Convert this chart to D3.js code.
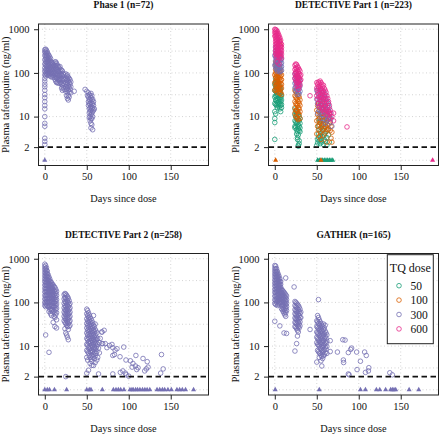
<!DOCTYPE html>
<html><head><meta charset="utf-8">
<script src="https://cdn.jsdelivr.net/npm/d3@7"></script>
<style>body{margin:0;background:#fff}svg{display:block}svg text{font-family:"Liberation Serif","Times New Roman",Times,serif !important}</style>
</head><body><svg id="c" width="440" height="435"></svg>
<script>
const doses = ["50", "100", "300", "600"];
const doseColors = ["#1B9E77", "#D95F02", "#7570B3", "#E7298A"];
const panelTitles = ["Phase 1 (n=72)", "DETECTIVE Part 1 (n=223)", "DETECTIVE Part 2 (n=258)", "GATHER (n=165)"];
const xTicks = [0, 50, 100, 150];
const yTicks = [1000, 100, 10, 2];
const yTickLabels = ["1000", "100", "10", "2"];
const gridX = [0, 50, 100, 150];
const gridY = [1, 3.162, 10, 31.62, 100, 316.2, 1000];
const lloq = 2;
const blqValue = 1;
const xLabel = "Days since dose";
const yLabel = "Plasma tafenoquine (ng/ml)";
const legendTitle = "TQ dose";

// rows: [day, conc, conc, ...]
const p1_300 = [
[0,2.3,2.7,3.2,6,7,10,15,18,22,27,32,40,48,55,65,75,90,110,130,160,200,250,300,340],
[1,350,300,260,220,180,150,120,100,85],[2,330,280,240,200,170,140,115,95],
[3,300,250,210,180,150,125,105,90],[4,270,230,195,165,140,115,95],
[5,250,210,180,150,125,105,88],[6,230,190,160,135,115,95],[7,210,170,140,120,100,82],
[8,180,150,125,105,90],[9,170,140,115,95,80],[10,160,130,105,88],[11,150,120,100,80],
[12,175,140,110,90,72],[13,180,150,125,100,80,65],[14,165,135,110,90,75,60],
[15,150,120,95,78,62],[16,140,110,88,70,58],[17,130,105,85,68],[18,140,110,90,72,58],
[19,120,95,76,60],[20,115,90,72,55,45],[21,110,85,68,52,40],[22,95,75,58,46],[23,90,70,55,42],
[25,95,75,60,48,38],[26,85,68,54,42,30],[27,90,72,58,45,35,26],[28,80,65,50,40,30,24],
[29,75,60,47,36,28],[30,70,55,42],[31,62,48,35],[35,38],
[48,42],[50,38],[51,30],[52,35,28,22,18],[53,32,25,20,15,12,9.5],[54,30,24,19,16,13,10,8],
[55,34,27,21,17,14,11,9,7,5.5],[56,30,24,19,15,12,9,6.5],[57,25,20,16,13,10,5],[58,22,18,14],[59,15]
];
const p1_blq_300 = [0];

const p2_50 = [
[0,3,7.3,9,13,20,28,40,55],[1,11.5,75,60,48,38,30,24,19],[2,70,55,45,36,29,23,18],
[3,65,50,40,32,26,21,16],[4,58,46,37,30,24,19],[5,52,42,34,27,22,17],[6,48,38,30,25,20,15],
[7,42,34,27,22,18,13],[8,30,24,19,16],
[24,15,11,8,6,5.5],[25,13,10,7.5,5.8],[26,14,11,9,7,5,4],[27,12,9.5,7.5,6,4.5,3.3,3],
[28,11,8.5,6.5,5.2,3.8,2.2,2.1],[29,10,8,6,4.8,2.8,2.4],[30,9,7,5.5,4.5],
[50,2.2],[51,3,2.5],[52,4,3.3,6],[53,5,2.8,7.5,9],[54,3.6,2.4],[55,5.5,4.2,3.1,8],[56,6.5,2.6],
[57,4.8,3.5],[58,8,5.5,2.3],[59,4,3],[60,6,2.7],[61,4.5],[62,3.3,2.2],[63,5],[64,3.8],[65,2.6]
];
const p2_100 = [
[0,40,60,90],[1,180,150,120,100,80,65,52,42],[2,170,140,115,95,78,62,50,40],
[3,160,130,105,85,70,56,45,36],[4,150,120,98,80,64,52,42],[5,140,110,90,72,58,47,38],
[6,520,125,100,80,65,52,42,34],[7,420,110,88,70,56,45,36],[8,90,70,55,45,32],
[24,40,30,22,16,12],[25,38,28,20,14,10],[26,35,26,19,14,9.5],[27,32,24,18,13,9],
[28,30,22,16,12,8.5],[29,28,20,15,11],[30,24,18,13,9],
[50,14,8,4],[51,18,11,6],[52,20,13,8.5,5],[53,16,10,6.5,3.5],[54,22,12,7.5,4.5],
[55,18,11,7,3],[56,15,9.5,6],[57,20,12,8,5],[58,16,10,6.5,3.8],[59,13,8.5,5.5],
[60,18,11,7,4.2],[61,14,9,5.8],[62,12,8,5,2.6],[63,10,6.5],[64,13,8.8,5.2],[65,9.5,6.8],
[66,7.5,4.8],[67,6,3.2],[68,4.4,2.6]
];
const p2_300 = [
[0,250,150],[1,400,330,280,230,190,160,130],[2,380,320,260,215,180,150,120],
[3,350,290,240,200,165,135,110],[4,330,270,225,185,150,125],[5,300,250,205,170,140,115],
[6,280,230,190,155,130,105],[7,250,200,165,135,110],[8,210,170,140,115],
[24,95,75,58,45],[25,100,80,62,48,38],[26,90,70,55,42],[27,85,66,52,40,32],
[28,78,60,47,36],[29,72,55,43,33],[30,65,50,38],
[50,40,25],[51,35,20,12],[52,45,28,17],[53,38,24,14],[54,32,20,12],[55,42,27,16,9],
[56,35,22,13],[57,30,18,11],[58,38,25,15,9],[59,28,17],[60,33,21,12,7],[61,26,15],
[62,22,13,8],[63,18,11],[64,20,14,9],[65,16,10],[66,12,7.5],[67,9],[68,6]
];
const p2_600 = [
[0,1000,850,700],[1,980,900,800,700,600,520,450,380,320,270],
[2,950,820,720,620,540,460,390,330,280,230],[3,880,760,650,560,480,410,350,300,250,180],
[4,800,690,590,500,430,370,310,260],[5,720,620,530,450,380,320,270,220,160],
[6,640,540,460,390,330,280,230],[7,560,470,400,340,290,240],[8,450,380,320,270,220],
[24,150,120,95,75],[25,160,130,105,85,68],[26,155,125,100,80,62,50],
[27,140,115,92,74,58],[28,130,105,84,66,52,42],[29,120,95,76,60,48],
[30,110,85,68,54],[31,90,70],[42,30],
[50,60,45,30],[51,55,40,25],[52,62,48,33,20],[53,58,42,28,17],[54,65,50,36,24],
[55,60,44,30,19],[56,55,40,27,16],[57,48,35,23,14],[58,52,38,26,15],[59,44,31,20,12],
[60,40,28,18],[61,36,24,14],[62,30,20,11],[63,26,16],[64,22,13],[65,18,12],
[66,14,9],[67,12],[68,10],[70,12,8],[86,5.8]
];
const p2_blq_50 = [51, 53, 55, 57, 59, 61, 63, 65, 67, 69];
const p2_blq_100 = [1, 55];
const p2_blq_600 = [188];

const p3_300 = [
[0,750,650,560,480,410,350,300,250,210,175,145,120,100,85],
[1,700,600,520,450,390,330,280,240,200,170,140,115,95,80,18],
[2,620,540,460,400,340,290,250,210,180,150,125,105,88],
[3,520,450,390,330,285,245,210,180,150,125,105,85],
[4,430,370,320,275,235,200,170,145,120,100,80],
[5,380,320,275,235,200,170,145,120,100,80,62,7.2],
[6,340,290,245,210,180,150,125,105,85,68],
[7,300,255,215,185,155,130,110,90,72,55],
[8,280,235,200,170,145,120,100,82,65,50],
[9,260,215,180,150,125,105,85,68],
[10,250,200,165,140,115,95,78,60,35],
[11,230,185,150,125,100,82,65,48],
[12,220,175,140,115,95,78,60,45,28],
[13,200,160,128,105,85,68,52],
[14,180,145,115,92,74,58,40,26],
[23,150,120,95,75,60,48,38],[24,160,130,105,85,68,55,44,35,25],
[25,155,125,100,80,65,52,42,33,20,2.0],[26,145,115,92,74,60,48,38,30,18],
[27,135,108,86,70,56,45,36,28,16],[28,125,100,80,64,52,42,33,24,14],
[29,110,88,70,56,45,36,28],[30,95,75,60,48,38,30],
[50,70,55,42,33,26,20,15,11,8,5.5,2.4],[51,65,50,38,30,23,18,14,10.5,7.5,4.8],
[52,58,45,35,27,21,16,12.5,9.5,7,2.8],[53,52,40,31,24,19,15,11.5,8.5,6],
[54,46,36,28,22,17,13,10,7.5,5.5,4],[55,42,32,25,19,15,12,9,7,5],
[56,38,29,22,17,13.5,10.5,8,6,4.5,3.6],[57,34,26,20,15.5,12,9.5,7.5,5.6],
[58,50,30,23,18,14,11,8.5,6.5,3.6],[59,28,21,16,12.5,9.5,7.2,5.2],
[60,32,24,18,14,11,8.5,6,4.2],[61,22,16,12,9,6.8],[62,20,14,10,7.5,4.8],
[63,15,11,5.5],[64,2.3,9],[65,12,7],[66,15],
[68,21,21,11.4],[69,11.4],[70.7,23],[72,11.4],[74,9.2],[77,10.3],[80,10.9],[81,9.2,6.1,2.3],
[83,6.4],[83.7,8.1],[86,8.7],[89.6,5.7],[90,2.5],[93,2.7],[94,9.5],[96,2.4],[96.7,4.8],
[97,2.2],[100,2.05],[102,4.6],[104,3.3],[105,4.0],[108,3.5],[108.5,6.1],[109.5,2.9],
[111,3.2],[117,5.2],[119,2.7],[121,3.0],[122,4.4],[123,3.3],[138,2.4],[139,6.4],[141,3.0]
];
const p3_blq_300 = [0, 3, 5.6, 11.5, 26, 50, 53, 55, 68.5, 81.7, 84.8, 87.6, 90.4, 94.3, 101.4, 103.8,
  105.3, 108.2, 110.5, 113.3, 116.4, 119.2, 121.9, 125.1, 133.7, 136.9, 140.1, 142.8, 146.7, 150.8,
  157.4, 160.6, 163.8, 167.7, 177.2];

const p4_300 = [
[0,700,600,520,450,390,330,280,240,200,170,140,115,95,37],
[1,680,580,500,430,370,315,270,230,195,165,135,110,90],
[2,600,510,440,380,325,280,240,205,175,145,120,100],
[3,520,450,385,330,285,245,210,180,150,125,105,85],
[4,450,390,335,290,250,215,185,155,130,110,90],
[5,400,340,295,255,220,190,160,135,115,95],
[6,350,300,260,225,195,165,140,118,98,29],
[7,300,260,225,195,168,142,120,100],
[8,200,170,145,125,105,88,72],[9,190,160,135,115,97,82,68],[10,180,150,128,108,90,75,62],
[11,170,142,120,100,84,70,57,20],[12,160,133,112,94,78,64,52],
[13,363,150,125,105,88,72,58,48],[14,140,115,95,80,65,19.5],
[23,226],[24,105,85,68,55,44,35,28,7.7],[25,100,80,64,52,42,34,27],
[26,95,76,61,49,40,32,25,11.4],[27,90,72,58,46,37,30,23,17],[28,85,68,54,43,35,28,21],
[29,78,62,50,40,32,26],[30,70,56,45,36,29],[31,60,45],[42,24],
[50,38,28,21,16,12,4.3],[51,50,36,27,20,15,11,8],[52,116,45,33,25,19,14,10.5,7.5],
[53,40,30,23,17.5,13,10,7,5.5],[54,36,27,21,16,12,9,6.8],[55,33,25,19,14.5,11,8.5,6.2,4.6],
[56,30,23,17.5,13.5,10,7.8,5.8,3.5],[57,28,21,16,12.3,9.3,7,5.2],[58,32,24,18,13.5,10.3,7.8,6],
[59,26,19,14.5,11,8.3,6.3],[60,30,22,16.5,12.5,9.5,7],[61,20,15,11.5,8.5],[62,18,13,9.8,6.8],
[66,13.3,7.5],[74.6,7.3],[81,14],[81.7,4.8],[82,4.2],[83.7,13.7],[87.6,7.1,2.3],[88.5,2.2],
[90.4,8.4],[91.5,9],[97.5,7.3],[98,2.9],[102,4.5],[107,7.3],[108,2.5],[109,6.1],
[111.5,2.7],[112,3.2],[137,2.45],[140,2.2]
];
const p4_blq_300 = [0.5, 53, 102, 108, 121, 125, 132, 138, 140, 142, 144, 160, 171.5];

function flat(rows) {
  const out = [];
  rows.forEach(r => { for (let i = 1; i < r.length; i++) out.push({ day: r[0], conc: r[i] }); });
  return out;
}

const panels = [
  { title: panelTitles[0], box: [38.5, 208.5, 24, 165.5], ylabX: 8.8,
    series: [{ dose: "300", rows: p1_300, blq: p1_blq_300 }] },
  { title: panelTitles[1], box: [268.5, 438.5, 24, 165.5], ylabX: 238.8,
    series: [{ dose: "50", rows: p2_50, blq: p2_blq_50 }, { dose: "100", rows: p2_100, blq: p2_blq_100 },
             { dose: "300", rows: p2_300, blq: [] }, { dose: "600", rows: p2_600, blq: p2_blq_600 }] },
  { title: panelTitles[2], box: [38.5, 208.5, 253.5, 395], ylabX: 8.8,
    series: [{ dose: "300", rows: p3_300, blq: p3_blq_300 }] },
  { title: panelTitles[3], box: [268.5, 438.5, 253.5, 395], ylabX: 238.8, legend: true,
    series: [{ dose: "300", rows: p4_300, blq: p4_blq_300 }] }
];

const color = d3.scaleOrdinal().domain(doses).range(doseColors);
const svg = d3.select("#c");
svg.append("rect").attr("width", 440).attr("height", 435).attr("fill", "#fff");

panels.forEach(p => {
  const [x0, x1, y0, y1] = p.box;
  const x = d3.scaleLinear().domain([-7.5, 195]).range([x0, x1]);
  const y = d3.scaleLog().domain([Math.pow(10, -0.12), Math.pow(10, 3.12)]).range([y1, y0]);
  const g = svg.append("g");

  // grid
  g.selectAll(null).data(gridX).enter().append("line")
    .attr("x1", d => x(d)).attr("x2", d => x(d)).attr("y1", y0).attr("y2", y1)
    .attr("stroke", "#cfcfcf").attr("stroke-width", 0.9).attr("stroke-dasharray", "1,2.5");
  g.selectAll(null).data(gridY).enter().append("line")
    .attr("y1", d => y(d)).attr("y2", d => y(d)).attr("x1", x0).attr("x2", x1)
    .attr("stroke", "#cfcfcf").attr("stroke-width", 0.9).attr("stroke-dasharray", "1,2.5");

  // points
  p.series.forEach(s => {
    const pts = flat(s.rows);
    g.selectAll(null).data(pts).enter().append("circle")
      .attr("cx", d => x(d.day)).attr("cy", d => y(d.conc)).attr("r", 2.3)
      .attr("fill", "none").attr("stroke", color(s.dose)).attr("stroke-width", 0.8);
  });
  p.series.forEach(s => {
    g.selectAll(null).data(s.blq).enter().append("path")
      .attr("d", d3.symbol(d3.symbolTriangle, 11))
      .attr("transform", d => `translate(${x(d)},${y(blqValue)})`)
      .attr("fill", color(s.dose));
  });

  // LLOQ dashed line
  g.append("line").attr("x1", x0).attr("x2", x1).attr("y1", y(lloq)).attr("y2", y(lloq))
    .attr("stroke", "#111").attr("stroke-width", 1.6).attr("stroke-dasharray", "5.5,3.5");

  // box
  g.append("rect").attr("x", x0).attr("y", y0).attr("width", x1 - x0).attr("height", y1 - y0)
    .attr("fill", "none").attr("stroke", "#222").attr("stroke-width", 1);

  // axes
  const xa = g.append("g").attr("transform", `translate(0,${y1})`)
    .call(d3.axisBottom(x).tickValues(xTicks).tickSize(4.5).tickPadding(3).tickFormat(d3.format("d")));
  xa.select(".domain").remove();
  xa.selectAll("line").attr("stroke", "#222");
  xa.selectAll("text").style("font-size", "10.5px").attr("fill", "#111");

  const ya = g.append("g").attr("transform", `translate(${x0},0)`)
    .call(d3.axisLeft(y).tickValues(yTicks).tickSize(4.5).tickPadding(4.5)
      .tickFormat((d, i) => yTickLabels[i]));
  ya.select(".domain").remove();
  ya.selectAll("line").attr("stroke", "#222");
  ya.selectAll("text").style("font-size", "10.5px").attr("fill", "#111");

  // labels
  g.append("text").attr("x", (x0 + x1) / 2).attr("y", y0 - 16).attr("text-anchor", "middle")
    .style("font-weight", "bold").style("font-size", "9.5px").attr("fill", "#111")
    .text(p.title);
  g.append("text").attr("x", (x0 + x1) / 2).attr("y", y1 + 36.5).attr("text-anchor", "middle")
    .style("font-size", "10.3px").attr("fill", "#111").text(xLabel);
  g.append("text").attr("transform", `translate(${p.ylabX},${(y0 + y1) / 2}) rotate(-90)`)
    .attr("text-anchor", "middle").style("font-size", "10.5px").attr("fill", "#111")
    .text(yLabel);

  if (p.legend) {
    const lg = g.append("g");
    lg.append("rect").attr("x", 387.3).attr("y", 254.7).attr("width", 46).attr("height", 89)
      .attr("fill", "#fff").attr("stroke", "#222").attr("stroke-width", 1);
    lg.append("text").attr("x", 410.3).attr("y", 272).attr("text-anchor", "middle")
      .style("font-size", "12px").attr("fill", "#111").text(legendTitle);
    doses.forEach((d, i) => {
      const cy = 285.7 + i * 14.4;
      lg.append("circle").attr("cx", 399).attr("cy", cy).attr("r", 2.3).attr("fill", "none")
        .attr("stroke", color(d)).attr("stroke-width", 0.8);
      lg.append("text").attr("x", 410.5).attr("y", cy + 4)
        .style("font-size", "11.5px").attr("fill", "#111").text(d);
    });
  }
});
</script></body></html>
